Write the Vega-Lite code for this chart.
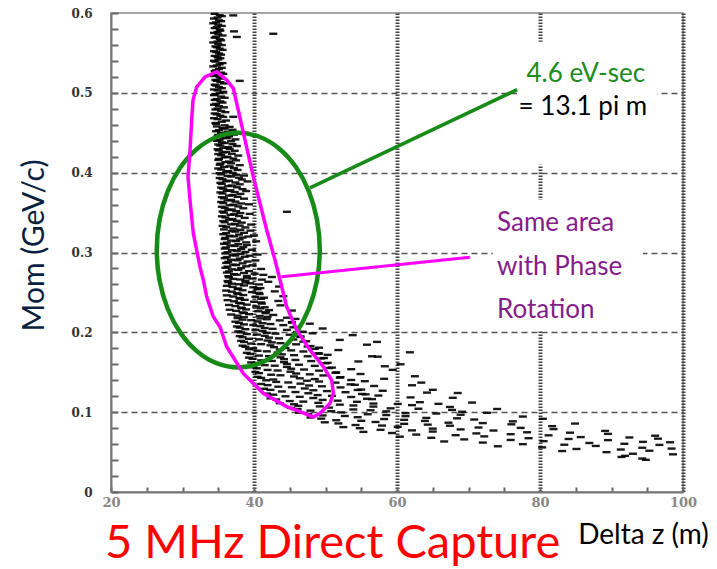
{
  "$schema": "https://vega.github.io/schema/vega-lite/v6.json",
  "width": 572,
  "height": 479,
  "autosize": {"type": "none"},
  "padding": {"left": 111, "top": 13, "right": 34, "bottom": 77},
  "background": "white",
  "config": {"view": {"stroke": "#888", "strokeWidth": 1.5}},
  "title": {"text": "5 MHz Direct Capture", "orient": "bottom", "anchor": "start", "frame": "group", "font": "Lato", "fontSize": 47, "fontWeight": "normal", "color": "#ff0000", "baseline": "alphabetic", "offset": 9, "dx": -6},
  "datasets": {
    "beam": [
      {"z":34.5,"p":0.599},{"z":35.2,"p":0.5972},{"z":34.9,"p":0.5943},{"z":35.5,"p":0.5961},{"z":34.4,"p":0.5931},{"z":35.1,"p":0.5908},{"z":34.7,"p":0.5882},{"z":35.4,"p":0.5897},{"z":34.3,"p":0.5871},{"z":35.0,"p":0.5853},
      {"z":34.8,"p":0.5823},{"z":35.5,"p":0.5838},{"z":34.5,"p":0.5811},{"z":35.2,"p":0.5794},{"z":34.9,"p":0.5762},{"z":35.3,"p":0.5779},{"z":34.4,"p":0.5751},{"z":35.0,"p":0.5733},{"z":34.7,"p":0.5702},{"z":35.6,"p":0.5718},
      {"z":34.5,"p":0.5691},{"z":35.2,"p":0.5673},{"z":34.9,"p":0.5642},{"z":35.4,"p":0.5658},{"z":34.3,"p":0.5631},{"z":35.0,"p":0.5613},{"z":34.6,"p":0.5582},{"z":35.5,"p":0.5598},{"z":34.8,"p":0.5571},{"z":35.2,"p":0.5553},
      {"z":34.4,"p":0.5522},{"z":35.6,"p":0.5538},{"z":34.7,"p":0.5511},{"z":35.1,"p":0.5493},{"z":34.5,"p":0.5462},{"z":35.4,"p":0.5478},{"z":34.9,"p":0.5451},{"z":35.3,"p":0.5433},{"z":34.4,"p":0.5402},{"z":35.0,"p":0.5418},
      {"z":34.6,"p":0.5391},{"z":35.6,"p":0.5373},{"z":34.8,"p":0.5342},{"z":35.2,"p":0.5358},{"z":34.3,"p":0.5331},{"z":35.5,"p":0.5313},{"z":34.7,"p":0.5282},{"z":35.1,"p":0.5298},{"z":34.5,"p":0.5271},{"z":35.4,"p":0.5253},
      {"z":34.9,"p":0.5222},{"z":35.7,"p":0.5238},{"z":34.4,"p":0.5211},{"z":35.2,"p":0.5193},{"z":34.6,"p":0.5162},{"z":35.5,"p":0.5178},{"z":34.8,"p":0.5151},{"z":35.3,"p":0.5133},{"z":34.5,"p":0.5102},{"z":35.8,"p":0.5118},
      {"z":34.7,"p":0.5091},{"z":35.1,"p":0.5073},{"z":34.4,"p":0.5042},{"z":35.5,"p":0.5058},{"z":34.9,"p":0.5031},{"z":35.7,"p":0.5013},{"z":34.6,"p":0.4982},{"z":35.2,"p":0.4998},{"z":34.4,"p":0.4971},{"z":35.4,"p":0.4953},
      {"z":34.8,"p":0.4922},{"z":35.9,"p":0.4938},{"z":34.5,"p":0.4911},{"z":35.3,"p":0.4893},{"z":34.7,"p":0.4862},{"z":35.6,"p":0.4878},{"z":34.4,"p":0.4851},{"z":35.1,"p":0.4833},{"z":34.9,"p":0.4802},{"z":35.8,"p":0.4818},
      {"z":34.6,"p":0.4791},{"z":35.4,"p":0.4773},{"z":34.5,"p":0.4742},{"z":36.0,"p":0.4758},{"z":34.8,"p":0.4731},{"z":35.3,"p":0.4713},{"z":34.4,"p":0.4682},{"z":35.7,"p":0.4698},{"z":34.9,"p":0.4671},{"z":36.1,"p":0.4653},
      {"z":34.6,"p":0.4622},{"z":35.5,"p":0.4638},{"z":34.7,"p":0.4611},{"z":35.9,"p":0.4593},
      {"z":34.8,"p":0.4579},{"z":35.6,"p":0.4559},{"z":36.6,"p":0.4574},{"z":35.1,"p":0.4533},{"z":35.9,"p":0.4552},{"z":37.0,"p":0.4537},{"z":34.7,"p":0.4519},{"z":35.4,"p":0.4499},{"z":36.3,"p":0.4514},
      {"z":35.0,"p":0.4473},{"z":36.0,"p":0.4492},{"z":37.2,"p":0.4477},{"z":34.9,"p":0.4459},{"z":35.7,"p":0.4439},{"z":36.5,"p":0.4454},{"z":35.2,"p":0.4413},{"z":36.2,"p":0.4432},{"z":37.4,"p":0.4417},
      {"z":34.8,"p":0.4399},{"z":35.5,"p":0.4379},{"z":36.8,"p":0.4394},{"z":35.0,"p":0.4353},{"z":35.9,"p":0.4372},{"z":37.0,"p":0.4357},{"z":35.3,"p":0.4339},{"z":36.4,"p":0.4319},{"z":37.6,"p":0.4334},
      {"z":34.9,"p":0.4293},{"z":35.7,"p":0.4312},{"z":36.6,"p":0.4297},{"z":35.1,"p":0.4279},{"z":36.1,"p":0.4259},{"z":37.3,"p":0.4274},{"z":35.0,"p":0.4233},{"z":35.6,"p":0.4252},{"z":36.9,"p":0.4237},
      {"z":35.4,"p":0.4219},{"z":36.3,"p":0.4199},{"z":37.8,"p":0.4214},{"z":35.1,"p":0.4173},{"z":35.9,"p":0.4192},{"z":37.1,"p":0.4177},{"z":35.0,"p":0.4159},{"z":36.5,"p":0.4139},{"z":37.5,"p":0.4154},
      {"z":35.3,"p":0.4113},{"z":36.0,"p":0.4132},{"z":36.8,"p":0.4117},{"z":35.2,"p":0.4099},{"z":36.6,"p":0.4079},{"z":38.0,"p":0.4094},{"z":35.0,"p":0.4053},{"z":35.8,"p":0.4072},{"z":37.2,"p":0.4057},
      {"z":35.4,"p":0.4039},{"z":36.4,"p":0.4019},{"z":37.7,"p":0.4034},{"z":35.2,"p":0.3993},{"z":36.1,"p":0.4012},{"z":37.0,"p":0.3997},
      {"z":35.4,"p":0.3979},{"z":36.3,"p":0.3959},{"z":37.5,"p":0.3974},{"z":38.6,"p":0.3964},{"z":35.2,"p":0.3933},{"z":36.8,"p":0.3952},{"z":37.9,"p":0.3937},{"z":35.6,"p":0.3919},{"z":36.5,"p":0.3899},{"z":38.3,"p":0.3914},
      {"z":35.3,"p":0.3873},{"z":36.1,"p":0.3892},{"z":37.4,"p":0.3877},{"z":39.1,"p":0.389},{"z":35.5,"p":0.3859},{"z":36.9,"p":0.3839},{"z":38.0,"p":0.3854},{"z":35.4,"p":0.3813},{"z":36.4,"p":0.3832},{"z":37.6,"p":0.3817},
      {"z":35.7,"p":0.3799},{"z":36.7,"p":0.3779},{"z":38.4,"p":0.3794},{"z":35.3,"p":0.3753},{"z":36.2,"p":0.3772},{"z":37.3,"p":0.3757},{"z":38.9,"p":0.377},{"z":35.6,"p":0.3739},{"z":37.0,"p":0.3719},{"z":38.1,"p":0.3734},
      {"z":35.5,"p":0.3693},{"z":36.5,"p":0.3712},{"z":37.7,"p":0.3697},{"z":35.8,"p":0.3679},{"z":36.8,"p":0.3659},{"z":38.6,"p":0.3674},{"z":35.4,"p":0.3633},{"z":36.3,"p":0.3652},{"z":37.4,"p":0.3637},
      {"z":35.7,"p":0.3619},{"z":37.1,"p":0.3599},{"z":38.2,"p":0.3614},{"z":39.3,"p":0.3604},{"z":35.5,"p":0.3573},{"z":36.6,"p":0.3592},{"z":37.8,"p":0.3577},{"z":35.9,"p":0.3559},{"z":36.9,"p":0.3539},{"z":38.5,"p":0.3554},
      {"z":35.6,"p":0.3513},{"z":36.4,"p":0.3532},{"z":37.5,"p":0.3517},{"z":35.8,"p":0.3499},{"z":37.2,"p":0.3479},{"z":38.1,"p":0.3494},{"z":39.4,"p":0.3484},{"z":35.5,"p":0.3453},{"z":36.7,"p":0.3472},{"z":37.9,"p":0.3457},
      {"z":36.0,"p":0.3439},{"z":37.0,"p":0.3419},{"z":38.7,"p":0.3434},{"z":35.7,"p":0.3393},{"z":36.5,"p":0.3412},{"z":37.6,"p":0.3397},{"z":35.9,"p":0.3379},{"z":37.3,"p":0.3359},{"z":38.3,"p":0.3374},
      {"z":35.6,"p":0.3333},{"z":36.8,"p":0.3352},{"z":38.0,"p":0.3337},{"z":39.6,"p":0.335},{"z":36.1,"p":0.3319},{"z":37.1,"p":0.3299},{"z":38.8,"p":0.3314},
      {"z":35.8,"p":0.3289},{"z":36.9,"p":0.3269},{"z":38.1,"p":0.3284},{"z":39.5,"p":0.3274},{"z":36.1,"p":0.3243},{"z":37.4,"p":0.3262},{"z":38.6,"p":0.3247},{"z":35.7,"p":0.3229},{"z":36.6,"p":0.3209},{"z":37.9,"p":0.3224},{"z":40.0,"p":0.3214},
      {"z":36.0,"p":0.3183},{"z":37.2,"p":0.3202},{"z":38.4,"p":0.3187},{"z":39.2,"p":0.32},{"z":35.9,"p":0.3169},{"z":36.8,"p":0.3149},{"z":38.0,"p":0.3164},{"z":36.2,"p":0.3123},{"z":37.5,"p":0.3142},{"z":38.9,"p":0.3127},{"z":40.3,"p":0.314},
      {"z":35.8,"p":0.3109},{"z":36.7,"p":0.3089},{"z":37.8,"p":0.3104},{"z":39.0,"p":0.3094},{"z":36.1,"p":0.3063},{"z":37.3,"p":0.3082},{"z":38.5,"p":0.3067},{"z":35.9,"p":0.3049},{"z":36.9,"p":0.3029},{"z":38.2,"p":0.3044},{"z":39.7,"p":0.3034},
      {"z":36.3,"p":0.3003},{"z":37.6,"p":0.3022},{"z":38.8,"p":0.3007},{"z":36.0,"p":0.2989},{"z":37.0,"p":0.2969},{"z":38.1,"p":0.2984},{"z":40.5,"p":0.2974},{"z":36.2,"p":0.2943},{"z":37.4,"p":0.2962},{"z":38.7,"p":0.2947},{"z":39.4,"p":0.296},
      {"z":35.9,"p":0.2929},{"z":36.8,"p":0.2909},{"z":38.0,"p":0.2924},{"z":36.4,"p":0.2883},{"z":37.7,"p":0.2902},{"z":39.1,"p":0.2887},{"z":40.2,"p":0.29},{"z":36.1,"p":0.2869},{"z":37.1,"p":0.2849},{"z":38.4,"p":0.2864},
      {"z":36.3,"p":0.2823},{"z":37.5,"p":0.2842},{"z":38.9,"p":0.2827},{"z":39.8,"p":0.284},{"z":36.0,"p":0.2809},{"z":36.9,"p":0.2789},{"z":38.2,"p":0.2804},{"z":41.0,"p":0.2794},{"z":36.5,"p":0.2763},{"z":37.8,"p":0.2782},{"z":39.3,"p":0.2767},
      {"z":36.2,"p":0.2749},{"z":37.2,"p":0.2729},{"z":38.6,"p":0.2744},{"z":40.1,"p":0.2734},{"z":36.4,"p":0.2703},{"z":37.6,"p":0.2722},{"z":39.0,"p":0.2707},{"z":41.3,"p":0.272},
      {"z":36.5,"p":0.2689},{"z":37.1,"p":0.2669},{"z":39.0,"p":0.2684},{"z":39.8,"p":0.2674},{"z":42.5,"p":0.2693},{"z":36.3,"p":0.2643},{"z":38.1,"p":0.2662},{"z":38.8,"p":0.2647},{"z":41.1,"p":0.266},
      {"z":36.4,"p":0.2629},{"z":36.9,"p":0.2609},{"z":38.8,"p":0.2624},{"z":39.5,"p":0.2614},{"z":42.0,"p":0.2633},{"z":36.2,"p":0.2583},{"z":37.9,"p":0.2602},{"z":38.6,"p":0.2587},{"z":40.7,"p":0.26},
      {"z":37.0,"p":0.2569},{"z":37.8,"p":0.2549},{"z":39.9,"p":0.2564},{"z":40.9,"p":0.2554},{"z":43.5,"p":0.2573},{"z":36.1,"p":0.2523},{"z":37.7,"p":0.2542},{"z":38.4,"p":0.2527},{"z":40.5,"p":0.254},
      {"z":36.9,"p":0.2509},{"z":37.6,"p":0.2489},{"z":39.7,"p":0.2504},{"z":40.7,"p":0.2494},{"z":42.9,"p":0.2513},{"z":36.2,"p":0.2463},{"z":37.8,"p":0.2482},{"z":38.5,"p":0.2467},{"z":40.8,"p":0.248},
      {"z":37.1,"p":0.2449},{"z":38.0,"p":0.2429},{"z":40.2,"p":0.2444},{"z":41.4,"p":0.2434},{"z":44.1,"p":0.2453},{"z":36.3,"p":0.2403},{"z":38.0,"p":0.2422},{"z":38.7,"p":0.2407},{"z":41.0,"p":0.242},
      {"z":37.2,"p":0.2389},{"z":37.9,"p":0.2369},{"z":40.0,"p":0.2384},{"z":41.0,"p":0.2374},{"z":43.4,"p":0.2393},{"z":36.5,"p":0.2343},{"z":38.2,"p":0.2362},{"z":39.0,"p":0.2347},{"z":41.1,"p":0.236},{"z":43.7,"p":0.2338},
      {"z":37.4,"p":0.2329},{"z":38.2,"p":0.2309},{"z":40.3,"p":0.2324},{"z":41.5,"p":0.2314},{"z":36.6,"p":0.2283},{"z":38.3,"p":0.2302},{"z":38.9,"p":0.2287},{"z":40.9,"p":0.23},{"z":42.1,"p":0.2278},
      {"z":37.5,"p":0.2269},{"z":38.4,"p":0.2249},{"z":40.6,"p":0.2264},{"z":41.7,"p":0.2254},{"z":45.3,"p":0.2273},{"z":36.8,"p":0.2223},{"z":38.6,"p":0.2242},{"z":39.3,"p":0.2227},{"z":41.6,"p":0.224},{"z":42.7,"p":0.2218},
      {"z":37.7,"p":0.2209},{"z":38.6,"p":0.2189},{"z":40.8,"p":0.2204},{"z":41.9,"p":0.2194},
      {"z":37.7,"p":0.2179},{"z":38.4,"p":0.2159},{"z":40.9,"p":0.2174},{"z":41.8,"p":0.2164},{"z":44.6,"p":0.2183},{"z":45.8,"p":0.2168},{"z":37.4,"p":0.2133},{"z":39.6,"p":0.2152},{"z":40.5,"p":0.2137},{"z":43.6,"p":0.215},{"z":45.3,"p":0.2128},
      {"z":37.9,"p":0.2119},{"z":38.6,"p":0.2099},{"z":41.2,"p":0.2114},{"z":42.3,"p":0.2104},{"z":45.3,"p":0.2123},{"z":47.8,"p":0.2108},{"z":37.6,"p":0.2073},{"z":39.9,"p":0.2092},{"z":40.9,"p":0.2077},{"z":44.1,"p":0.209},{"z":45.9,"p":0.2068},
      {"z":38.0,"p":0.2059},{"z":38.8,"p":0.2039},{"z":41.5,"p":0.2054},{"z":42.6,"p":0.2044},{"z":45.5,"p":0.2063},{"z":49.6,"p":0.2048},{"z":37.8,"p":0.2013},{"z":40.2,"p":0.2032},{"z":41.2,"p":0.2017},{"z":44.6,"p":0.203},{"z":46.8,"p":0.2008},
      {"z":38.2,"p":0.1999},{"z":39.0,"p":0.1979},{"z":41.8,"p":0.1994},{"z":43.0,"p":0.1984},{"z":46.0,"p":0.2003},{"z":48.2,"p":0.1988},{"z":38.0,"p":0.1953},{"z":40.4,"p":0.1972},{"z":41.5,"p":0.1957},{"z":45.0,"p":0.197},{"z":46.5,"p":0.1948},{"z":53.8,"p":0.1965},
      {"z":38.4,"p":0.1939},{"z":39.3,"p":0.1919},{"z":42.1,"p":0.1934},{"z":43.5,"p":0.1924},{"z":46.5,"p":0.1943},{"z":38.2,"p":0.1893},{"z":40.7,"p":0.1912},{"z":41.9,"p":0.1897},{"z":45.5,"p":0.191},{"z":47.3,"p":0.1888},{"z":52.0,"p":0.1905},
      {"z":38.6,"p":0.1879},{"z":39.6,"p":0.1859},{"z":42.5,"p":0.1874},{"z":43.7,"p":0.1864},{"z":46.9,"p":0.1883},{"z":38.4,"p":0.1833},{"z":41.0,"p":0.1852},{"z":42.3,"p":0.1837},{"z":45.9,"p":0.185},{"z":47.9,"p":0.1828},{"z":55.8,"p":0.1845},
      {"z":38.8,"p":0.1819},{"z":39.9,"p":0.1799},{"z":42.8,"p":0.1814},{"z":44.4,"p":0.1804},{"z":47.5,"p":0.1823},{"z":49.1,"p":0.1808},
      {"z":39.3,"p":0.1789},{"z":40.5,"p":0.1769},{"z":43.6,"p":0.1784},{"z":45.2,"p":0.1774},{"z":48.5,"p":0.1793},{"z":51.8,"p":0.1778},{"z":39.0,"p":0.1743},{"z":41.8,"p":0.1762},{"z":43.3,"p":0.1747},{"z":46.9,"p":0.176},{"z":49.0,"p":0.1738},
      {"z":39.5,"p":0.1729},{"z":40.7,"p":0.1709},{"z":43.9,"p":0.1724},{"z":45.6,"p":0.1714},{"z":49.1,"p":0.1733},{"z":50.3,"p":0.1718},{"z":39.3,"p":0.1683},{"z":42.1,"p":0.1702},{"z":43.7,"p":0.1687},{"z":47.5,"p":0.17},{"z":49.8,"p":0.1678},{"z":57.3,"p":0.1695},
      {"z":39.8,"p":0.1669},{"z":41.0,"p":0.1649},{"z":44.2,"p":0.1664},{"z":45.8,"p":0.1654},{"z":49.4,"p":0.1673},{"z":39.6,"p":0.1623},{"z":42.5,"p":0.1642},{"z":44.2,"p":0.1627},{"z":48.0,"p":0.164},{"z":50.3,"p":0.1618},{"z":54.6,"p":0.1635},
      {"z":40.1,"p":0.1609},{"z":41.5,"p":0.1589},{"z":44.6,"p":0.1604},{"z":46.3,"p":0.1594},{"z":50.0,"p":0.1613},{"z":39.9,"p":0.1563},{"z":42.9,"p":0.1582},{"z":44.6,"p":0.1567},{"z":48.5,"p":0.158},{"z":50.9,"p":0.1558},{"z":58.3,"p":0.1575},
      {"z":40.4,"p":0.1549},{"z":41.9,"p":0.1529},{"z":45.2,"p":0.1544},{"z":47.0,"p":0.1534},{"z":50.5,"p":0.1553},{"z":53.6,"p":0.1538},{"z":40.2,"p":0.1503},{"z":43.3,"p":0.1522},{"z":45.1,"p":0.1507},{"z":49.1,"p":0.152},{"z":51.5,"p":0.1498},
      {"z":40.7,"p":0.1489},{"z":42.4,"p":0.1469},{"z":45.9,"p":0.1484},{"z":47.8,"p":0.1474},{"z":51.4,"p":0.1493},{"z":54.9,"p":0.1478},{"z":40.5,"p":0.1443},{"z":43.7,"p":0.1462},{"z":45.6,"p":0.1447},{"z":49.7,"p":0.146},{"z":52.1,"p":0.1438},
      {"z":41.0,"p":0.1429},{"z":42.7,"p":0.1409},{"z":46.4,"p":0.1424},{"z":48.5,"p":0.1414},{"z":52.0,"p":0.1433},{"z":58.2,"p":0.1418},
      {"z":41.7,"p":0.1399},{"z":43.1,"p":0.1379},{"z":47.4,"p":0.1394},{"z":49.1,"p":0.1384},{"z":53.6,"p":0.1403},{"z":55.5,"p":0.1388},{"z":41.0,"p":0.1353},{"z":44.8,"p":0.1372},{"z":46.5,"p":0.1357},{"z":51.4,"p":0.137},{"z":53.5,"p":0.1348},
      {"z":41.9,"p":0.1339},{"z":43.4,"p":0.1319},{"z":47.7,"p":0.1334},{"z":49.5,"p":0.1324},{"z":54.1,"p":0.1343},{"z":56.8,"p":0.1328},{"z":62.1,"p":0.1337},{"z":41.4,"p":0.1293},{"z":45.3,"p":0.1312},{"z":47.1,"p":0.1297},{"z":52.1,"p":0.131},{"z":54.5,"p":0.1278},
      {"z":42.3,"p":0.1279},{"z":43.9,"p":0.1259},{"z":48.3,"p":0.1274},{"z":50.2,"p":0.1264},{"z":55.0,"p":0.1283},{"z":58.0,"p":0.1268},{"z":41.8,"p":0.1233},{"z":45.8,"p":0.1252},{"z":47.6,"p":0.1237},{"z":52.8,"p":0.125},{"z":55.1,"p":0.1228},{"z":64.2,"p":0.1245},
      {"z":42.7,"p":0.1219},{"z":44.4,"p":0.1199},{"z":48.9,"p":0.1214},{"z":50.9,"p":0.1204},{"z":55.6,"p":0.1223},{"z":57.4,"p":0.1208},{"z":42.3,"p":0.1173},{"z":46.4,"p":0.1192},{"z":48.3,"p":0.1177},{"z":53.6,"p":0.119},{"z":55.8,"p":0.1168},{"z":61.9,"p":0.1185},
      {"z":43.1,"p":0.1159},{"z":45.0,"p":0.1139},{"z":49.6,"p":0.1154},{"z":51.7,"p":0.1144},{"z":56.5,"p":0.1163},{"z":43.6,"p":0.1113},{"z":46.9,"p":0.1132},{"z":49.0,"p":0.1117},{"z":54.4,"p":0.113},{"z":56.7,"p":0.1108},{"z":63.2,"p":0.1125},{"z":65.8,"p":0.1104},
      {"z":45.6,"p":0.1099},{"z":46.2,"p":0.1079},{"z":52.0,"p":0.1094},{"z":53.9,"p":0.1084},{"z":60.1,"p":0.1103},{"z":62.1,"p":0.1088},{"z":45.2,"p":0.1053},{"z":49.2,"p":0.1072},{"z":50.5,"p":0.1057},{"z":56.7,"p":0.107},{"z":59.1,"p":0.1048},{"z":67.4,"p":0.1065},
      {"z":46.1,"p":0.1039},{"z":47.9,"p":0.1019},{"z":53.9,"p":0.1034},{"z":56.3,"p":0.1024},{"z":63.0,"p":0.1043},{"z":67.7,"p":0.1028},{"z":46.3,"p":0.0993},{"z":50.8,"p":0.1012},{"z":52.2,"p":0.0997},{"z":58.5,"p":0.101},{"z":61.2,"p":0.0988},{"z":69.1,"p":0.1005},{"z":72.6,"p":0.0992},
      {"z":47.6,"p":0.0979},{"z":49.6,"p":0.0959},{"z":55.9,"p":0.0974},{"z":58.5,"p":0.0964},{"z":65.5,"p":0.0983},{"z":68.9,"p":0.0968},{"z":47.9,"p":0.0933},{"z":52.7,"p":0.0952},{"z":54.5,"p":0.0937},{"z":61.2,"p":0.095},{"z":64.1,"p":0.0928},{"z":77.6,"p":0.0945},
      {"z":49.4,"p":0.0919},{"z":51.5,"p":0.0899},{"z":58.2,"p":0.0914},{"z":61.0,"p":0.0904},{"z":68.4,"p":0.0923},{"z":70.8,"p":0.0908},{"z":80.4,"p":0.0917},{"z":49.9,"p":0.0873},{"z":55.0,"p":0.0892},{"z":57.0,"p":0.0877},{"z":63.9,"p":0.089},{"z":67.2,"p":0.0868},{"z":76.2,"p":0.0885},
      {"z":51.8,"p":0.0859},{"z":54.2,"p":0.0839},{"z":61.0,"p":0.0854},{"z":64.3,"p":0.0844},{"z":72.0,"p":0.0863},{"z":76.0,"p":0.0848},{"z":84.9,"p":0.0857},{"z":52.5,"p":0.0813},{"z":57.9,"p":0.0832},{"z":60.1,"p":0.0817},{"z":67.4,"p":0.083},{"z":71.4,"p":0.0808},{"z":81.7,"p":0.0825},
      {"z":54.8,"p":0.0799},{"z":57.7,"p":0.0779},{"z":65.0,"p":0.0794},{"z":68.9,"p":0.0784},{"z":77.3,"p":0.0803},{"z":81.9,"p":0.0788},{"z":55.3,"p":0.0753},{"z":62.1,"p":0.0772},{"z":65.0,"p":0.0757},{"z":73.5,"p":0.077},{"z":78.2,"p":0.0748},{"z":89.1,"p":0.0765},
      {"z":59.3,"p":0.0739},{"z":62.7,"p":0.0719},{"z":71.1,"p":0.0734},{"z":75.9,"p":0.0724},{"z":84.2,"p":0.0743},{"z":89.5,"p":0.0728},{"z":60.4,"p":0.0693},{"z":68.2,"p":0.0712},{"z":72.2,"p":0.0697},{"z":81.2,"p":0.071},{"z":85.7,"p":0.0688},{"z":96.1,"p":0.0705},
      {"z":64.8,"p":0.0679},{"z":69.4,"p":0.0659},{"z":78.4,"p":0.0674},{"z":84.0,"p":0.0664},{"z":92.5,"p":0.0683},{"z":96.5,"p":0.0668},{"z":66.6,"p":0.0633},{"z":75.9,"p":0.0652},{"z":80.5,"p":0.0637},{"z":89.5,"p":0.065},{"z":94.4,"p":0.0628},
      {"z":72.0,"p":0.0619},{"z":77.6,"p":0.0599},{"z":86.9,"p":0.0614},{"z":91.8,"p":0.0604},{"z":98.2,"p":0.0623},{"z":74.1,"p":0.0573},{"z":83.4,"p":0.0592},{"z":87.8,"p":0.0577},{"z":96.7,"p":0.059},
      {"z":80.3,"p":0.0559},{"z":85.1,"p":0.0539},{"z":94.3,"p":0.0554},{"z":98.4,"p":0.0544},{"z":83.1,"p":0.0513},{"z":91.3,"p":0.0532},{"z":95.3,"p":0.0517},{"z":89.3,"p":0.0499},{"z":93.0,"p":0.0479},
      {"z":91.9,"p":0.0453},{"z":98.6,"p":0.0472},{"z":91.4,"p":0.0439},{"z":94.3,"p":0.0419},{"z":94.8,"p":0.0403},
      {"z":37.1,"p":0.597},{"z":37.2,"p":0.577},{"z":37.6,"p":0.570},{"z":42.7,"p":0.574},{"z":38.0,"p":0.515},{"z":37.1,"p":0.470},{"z":44.6,"p":0.351},
      {"z":57.2,"p":0.188},{"z":61.8,"p":0.175},{"z":59.4,"p":0.153},{"z":56.5,"p":0.170},{"z":60.5,"p":0.160},{"z":62.5,"p":0.145},{"z":63.4,"p":0.137},{"z":65.0,"p":0.128},{"z":67.8,"p":0.118},{"z":70.5,"p":0.112},{"z":74.0,"p":0.104},{"z":68.5,"p":0.124}
    ],
    "ellipse": [
      {"i":0,"z":49.2,"p":0.303},{"i":1,"z":48.81,"p":0.341},{"i":2,"z":47.67,"p":0.3765},{"i":3,"z":45.86,"p":0.407},{"i":4,"z":43.5,"p":0.4303},{"i":5,"z":40.75,"p":0.445},
      {"i":6,"z":37.8,"p":0.45},{"i":7,"z":34.85,"p":0.445},{"i":8,"z":32.1,"p":0.4303},{"i":9,"z":29.74,"p":0.407},{"i":10,"z":27.93,"p":0.3765},{"i":11,"z":26.79,"p":0.341},
      {"i":12,"z":26.4,"p":0.303},{"i":13,"z":26.79,"p":0.265},{"i":14,"z":27.93,"p":0.2295},{"i":15,"z":29.74,"p":0.199},{"i":16,"z":32.1,"p":0.1757},{"i":17,"z":34.85,"p":0.161},
      {"i":18,"z":37.8,"p":0.156},{"i":19,"z":40.75,"p":0.161},{"i":20,"z":43.5,"p":0.1757},{"i":21,"z":45.86,"p":0.199},{"i":22,"z":47.67,"p":0.2295},{"i":23,"z":48.81,"p":0.265}
    ],
    "phase": [
      {"i":0,"z":34.78,"p":0.5265},{"i":1,"z":36.18,"p":0.516},{"i":2,"z":37.11,"p":0.5057},{"i":3,"z":37.8,"p":0.4785},{"i":4,"z":38.74,"p":0.441},{"i":5,"z":39.9,"p":0.395},
      {"i":6,"z":41.78,"p":0.3282},{"i":7,"z":42.94,"p":0.2906},{"i":8,"z":43.64,"p":0.2656},{"i":9,"z":44.57,"p":0.232},{"i":10,"z":45.97,"p":0.203},{"i":11,"z":47.83,"p":0.178},
      {"i":12,"z":49.7,"p":0.157},{"i":13,"z":50.87,"p":0.14},{"i":14,"z":51.1,"p":0.124},{"i":15,"z":50.63,"p":0.111},{"i":16,"z":49.23,"p":0.0986},{"i":17,"z":48.3,"p":0.094},
      {"i":18,"z":46.43,"p":0.1006},{"i":19,"z":44.57,"p":0.107},{"i":20,"z":41.3,"p":0.1236},{"i":21,"z":38.5,"p":0.1486},{"i":22,"z":36.18,"p":0.182},{"i":23,"z":35.24,"p":0.207},
      {"i":24,"z":34.31,"p":0.2196},{"i":25,"z":33.38,"p":0.2447},{"i":26,"z":32.91,"p":0.2656},{"i":27,"z":32.45,"p":0.282},{"i":28,"z":31.51,"p":0.324},{"i":29,"z":31.05,"p":0.366},
      {"i":30,"z":30.77,"p":0.3946},{"i":31,"z":31.05,"p":0.428},{"i":32,"z":31.29,"p":0.466},{"i":33,"z":31.47,"p":0.491},{"i":34,"z":31.99,"p":0.5073},{"i":35,"z":33.15,"p":0.5199}
    ],
    "greenPointer": [{"z":47.83,"p":0.381},{"z":76.8,"p":0.504}],
    "magentaPointer": [{"z":43.87,"p":0.2697},{"z":70.21,"p":0.294}],
    "boxes": [{"z":76.8,"z2":96.4,"p":0.564,"p2":0.41},{"z":73.4,"z2":94.4,"p":0.366,"p2":0.203}],
    "greenNote": [{"z":86.4,"p":0.5136,"label":"4.6 eV-sec"}],
    "blackNote": [{"z":86.0,"p":0.472,"label":"= 13.1 pi m"}],
    "purpleNote": [{"z":74.0,"p":0.327,"label":"Same area"},{"z":74.0,"p":0.272,"label":"with Phase"},{"z":74.0,"p":0.218,"label":"Rotation"}]
  },
  "encoding": {
    "x": {
      "field": "z", "type": "quantitative",
      "scale": {"domain": [20, 100], "nice": false, "zero": false},
      "axis": {
        "title": "Delta z  (m)",
        "values": [20,25,30,35,40,45,50,55,60,65,70,75,80,85,90,95,100],
        "labelExpr": "datum.value % 20 === 0 ? datum.label : ''",
        "grid": true,
        "gridOpacity": {"condition": {"test": "datum.value % 20 === 0 && datum.value > 20", "value": 1}, "value": 0},
        "gridColor": "#444", "gridWidth": 4, "gridDash": [1.5, 1.5],
        "tickSize": -5, "tickWidth": 2, "tickColor": "#666",
        "domainColor": "#777", "domainWidth": 2,
        "labelFont": "DejaVu Serif", "labelFontWeight": "bold", "labelFontSize": 13, "labelColor": "#888",
        "labelPadding": 9, "labelFlush": false, "labelOverlap": false,
        "titleFont": "Lato", "titleFontSize": 28, "titleFontWeight": "normal", "titleColor": "#000",
        "titleX": 532, "titleY": 51, "titleAlign": "center", "titleBaseline": "alphabetic"
      }
    },
    "y": {
      "field": "p", "type": "quantitative",
      "scale": {"domain": [0, 0.6], "nice": false, "zero": true},
      "axis": {
        "title": "Mom  (GeV/c)",
        "values": [0,0.02,0.04,0.06,0.08,0.1,0.12,0.14,0.16,0.18,0.2,0.22,0.24,0.26,0.28,0.3,0.32,0.34,0.36,0.38,0.4,0.42,0.44,0.46,0.48,0.5,0.52,0.54,0.56,0.58,0.6],
        "labelExpr": "abs(datum.value*10 - round(datum.value*10)) < 0.001 ? (datum.value < 0.001 ? '0' : format(datum.value, '.1f')) : ''",
        "grid": true,
        "gridOpacity": {"condition": {"test": "abs(datum.value*10 - round(datum.value*10)) < 0.001 && datum.value > 0.05 && datum.value < 0.55", "value": 1}, "value": 0},
        "gridColor": "#555", "gridWidth": 1.3, "gridDash": [6, 4],
        "tickSize": -7, "tickWidth": 2, "tickColor": "#666",
        "domainColor": "#777", "domainWidth": 2,
        "labelFont": "DejaVu Serif", "labelFontWeight": "bold", "labelFontSize": 12, "labelColor": "#333",
        "labelPadding": 26, "labelFlush": false, "labelOverlap": false,
        "titleFont": "Lato", "titleFontSize": 30, "titleFontWeight": "normal", "titleColor": "#0b1f3f",
        "titleAngle": -90, "titleX": -68, "titleY": 232, "titleAlign": "center", "titleBaseline": "alphabetic"
      }
    }
  },
  "layer": [
    {"data": {"name": "boxes"}, "mark": {"type": "rect", "fill": "white"}, "encoding": {"x2": {"field": "z2"}, "y2": {"field": "p2"}}},
    {"data": {"name": "beam"}, "mark": {"type": "point", "shape": "M-1,-0.3L1,-0.3L1,0.3L-1,0.3Z", "filled": true, "size": 64, "color": "#000", "opacity": 0.9}},
    {"data": {"name": "ellipse"}, "mark": {"type": "line", "interpolate": "cardinal-closed", "color": "#178a17", "strokeWidth": 4.5}, "encoding": {"order": {"field": "i", "type": "quantitative"}}},
    {"data": {"name": "greenPointer"}, "mark": {"type": "line", "color": "#178a17", "strokeWidth": 3.5}, "encoding": {}},
    {"data": {"name": "phase"}, "mark": {"type": "line", "interpolate": "linear-closed", "color": "#ff00ff", "strokeWidth": 3.5}, "encoding": {"order": {"field": "i", "type": "quantitative"}}},
    {"data": {"name": "magentaPointer"}, "mark": {"type": "line", "color": "#ff00ff", "strokeWidth": 3}, "encoding": {}},
    {"data": {"name": "greenNote"}, "mark": {"type": "text", "font": "Lato", "fontSize": 26, "color": "#1c8c1c", "align": "center", "baseline": "alphabetic"}, "encoding": {"text": {"field": "label"}}},
    {"data": {"name": "blackNote"}, "mark": {"type": "text", "font": "Lato", "fontSize": 26, "color": "#000", "align": "center", "baseline": "alphabetic"}, "encoding": {"text": {"field": "label"}}},
    {"data": {"name": "purpleNote"}, "mark": {"type": "text", "font": "Lato", "fontSize": 26, "color": "#861c8a", "align": "left", "baseline": "alphabetic"}, "encoding": {"text": {"field": "label"}}}
  ]
}
